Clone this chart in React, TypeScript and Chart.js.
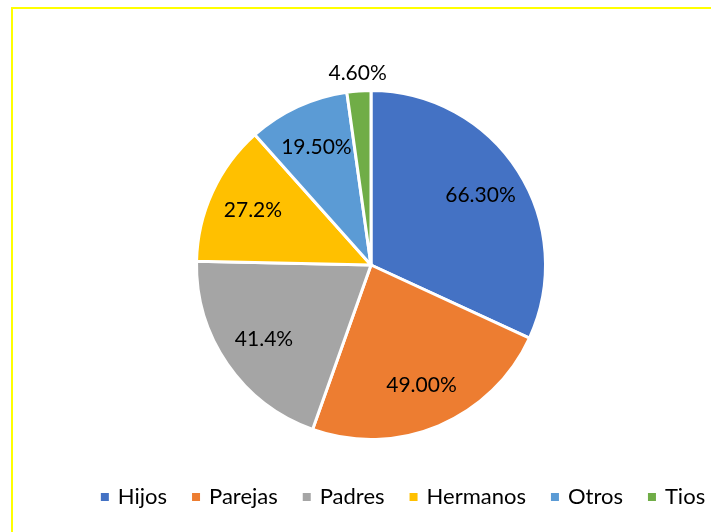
import React, { useEffect, useRef } from "react";
import { Chart, registerables } from "chart.js";

Chart.register(...registerables);

const categories = ["Hijos", "Parejas", "Padres", "Hermanos", "Otros", "Tios"];
const values = [66.3, 49.0, 41.4, 27.2, 19.5, 4.6];
const valueLabels = ["66.30%", "49.00%", "41.4%", "27.2%", "19.50%", "4.60%"];
const colors = ["#4472C4", "#ED7D31", "#A5A5A5", "#FFC000", "#5B9BD5", "#70AD47"];

const FONT = "Lato, 'Open Sans', sans-serif";

const labelPlugin = {
  id: "sliceLabels",
  afterDraw(chart: any) {
    const ctx = chart.ctx;
    const meta = chart.getDatasetMeta(0);
    ctx.save();
    ctx.font = `21px ${FONT}`;
    ctx.fillStyle = "#000000";
    ctx.textAlign = "center";
    ctx.textBaseline = "middle";
    meta.data.forEach((arc: any, i: number) => {
      const p = arc.getProps(["x", "y", "startAngle", "endAngle", "outerRadius"], true);
      const mid = (p.startAngle + p.endAngle) / 2;
      const span = p.endAngle - p.startAngle;
      const r = span < 0.2 ? p.outerRadius + 18 : p.outerRadius * 0.745;
      ctx.fillText(valueLabels[i], p.x + Math.cos(mid) * r, p.y + Math.sin(mid) * r);
    });
    ctx.restore();
  },
};

const legendPlugin = {
  id: "customLegend",
  afterDraw(chart: any) {
    const ctx = chart.ctx;
    ctx.save();
    ctx.font = `22px ${FONT}`;
    ctx.textBaseline = "middle";
    const box = 8;
    const boxGap = 9;
    const itemGap = 25;
    const widths = categories.map((c) => ctx.measureText(c).width);
    const total =
      widths.reduce((a, w) => a + box + boxGap + w, 0) + itemGap * (categories.length - 1);
    let x = 403 - total / 2;
    const y = 497;
    categories.forEach((c, i) => {
      ctx.fillStyle = colors[i];
      ctx.fillRect(x, y - box / 2, box, box);
      x += box + boxGap;
      ctx.fillStyle = "#000000";
      ctx.textAlign = "left";
      ctx.fillText(c, x, y);
      x += widths[i] + itemGap;
    });
    ctx.restore();
  },
};

export default function App() {
  const ref = useRef<HTMLCanvasElement>(null);
  useEffect(() => {
    if (!ref.current) return;
    const chart = new Chart(ref.current, {
      type: "pie",
      data: {
        labels: categories,
        datasets: [
          {
            data: values,
            backgroundColor: colors,
            borderColor: "#ffffff",
            borderWidth: 3,
          },
        ],
      },
      options: {
        responsive: false,
        animation: false,
        layout: { padding: { top: 89, bottom: 91, left: 100, right: 69 } },
        plugins: {
          legend: { display: false },
          tooltip: { enabled: false },
        },
      },
      plugins: [labelPlugin, legendPlugin],
    });
    return () => chart.destroy();
  }, []);

  return (
    <div style={{ position: "fixed", left: 0, top: 0, width: 711, height: 532, background: "#ffffff", overflow: "hidden" }}>
      <div
        style={{
          position: "absolute",
          left: 11,
          top: 7,
          width: 800,
          height: 600,
          borderTop: "2px solid #FFFF00",
          borderLeft: "2px solid #FFFF00",
        }}
      />
      <canvas ref={ref} width={711} height={532} style={{ position: "absolute", left: 0, top: 0 }} />
    </div>
  );
}
